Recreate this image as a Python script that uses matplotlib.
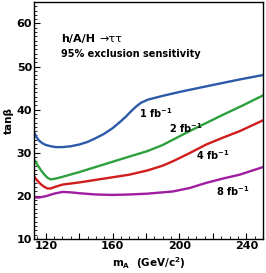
import numpy as np
import matplotlib
matplotlib.use('Agg')
import matplotlib.pyplot as plt
from matplotlib.ticker import MultipleLocator, FuncFormatter

plt.rcParams['font.family'] = 'DejaVu Sans'
plt.rcParams['font.weight'] = 'bold'

# tan(beta) reach vs m_A for each luminosity
mA_1 = [113, 114.5, 116, 118, 120, 123, 126, 130, 135, 140, 145, 150, 155, 160, 164, 168, 171, 174,
        177, 181, 186, 190, 200, 216, 236, 251]
tb_1 = [34.7, 33.6, 32.8, 32.2, 31.8, 31.5, 31.3, 31.3, 31.5, 31.9, 32.5, 33.4, 34.4, 35.7, 37.0, 38.4,
        39.6, 40.7, 41.6, 42.3, 42.8, 43.2, 44.1, 45.4, 47.0, 48.1]

mA_2 = [113, 115, 117, 119, 121, 123, 126, 130, 140, 150, 160, 170, 181, 190, 196, 206, 216, 226, 238, 251]
tb_2 = [28.5, 27.2, 26.0, 25.0, 24.2, 23.8, 24.0, 24.4, 25.5, 26.7, 27.9, 29.1, 30.4, 31.8, 33.0, 35.0,
        36.9, 38.8, 41.0, 43.5]

mA_4 = [113, 115, 117, 119, 121, 123, 125, 130, 140, 150, 160, 170, 181, 190, 196, 206, 216, 226, 236, 251]
tb_4 = [24.5, 23.5, 22.7, 22.1, 21.7, 21.7, 22.0, 22.6, 23.1, 23.7, 24.3, 24.9, 25.9, 27.0, 28.0, 29.9,
        31.9, 33.5, 35.0, 37.7]

mA_8 = [113, 116, 120, 125, 130, 135, 140, 150, 160, 170, 181, 190, 196, 206, 216, 226, 236, 251]
tb_8 = [19.6, 19.6, 19.9, 20.5, 20.9, 20.8, 20.6, 20.3, 20.2, 20.3, 20.5, 20.8, 21.0, 21.8, 23.0, 24.0,
        24.9, 26.8]

lumi_labels = ['1 fb$^{\\mathbf{-1}}$', '2 fb$^{\\mathbf{-1}}$', '4 fb$^{\\mathbf{-1}}$', '8 fb$^{\\mathbf{-1}}$']
label_pos = [(176, 39.3), (194, 35.6), (210, 29.4), (222, 21.0)]

colors = ['#2c5aa8', '#2ca03c', '#d01c1c', '#a01ca0']

fig = plt.figure(figsize=(2.66, 2.73), dpi=100)
ax = fig.add_axes([0.128, 0.125, 0.861, 0.868])

for x, y, c in zip([mA_1, mA_2, mA_4, mA_8], [tb_1, tb_2, tb_4, tb_8], colors):
    ax.plot(x, y, color=c, lw=1.7, solid_capstyle='round', solid_joinstyle='round')

for lab, (x, y) in zip(lumi_labels, label_pos):
    ax.text(x, y, lab, fontsize=7, fontweight='bold', va='center')

ax.text(129, 56.3, 'h/A/H', fontsize=8, fontweight='bold', va='center')
ax.text(152, 56.3, '→ττ', fontsize=8, fontweight='normal', va='center')
ax.text(129, 53.0, '95% exclusion sensitivity', fontsize=7, fontweight='bold', va='center')

ax.set_xlim(113, 250)
ax.set_ylim(10, 65)

ax.xaxis.set_major_locator(MultipleLocator(20))
ax.xaxis.set_minor_locator(MultipleLocator(5))
ax.xaxis.set_major_formatter(FuncFormatter(lambda v, p: '%d' % v if v % 40 == 0 else ''))
ax.yaxis.set_major_locator(MultipleLocator(10))
ax.yaxis.set_minor_locator(MultipleLocator(1))

ax.tick_params(which='both', direction='in', top=False, right=False, labelsize=8)
ax.tick_params(which='major', length=4, width=0.8, pad=1.5)
ax.tick_params(which='minor', length=2, width=0.6)
for lab in ax.get_xticklabels() + ax.get_yticklabels():
    lab.set_fontweight('bold')

ax.set_xlabel('m$_{\\mathbf{A}}$  (GeV/c$^{\\mathbf{2}}$)', fontsize=7.5, fontweight='bold', labelpad=3)
ax.set_ylabel('tanβ', fontsize=7.5, fontweight='bold', labelpad=2)

for s in ax.spines.values():
    s.set_linewidth(1.0)

fig.savefig('out.png', dpi=100)
